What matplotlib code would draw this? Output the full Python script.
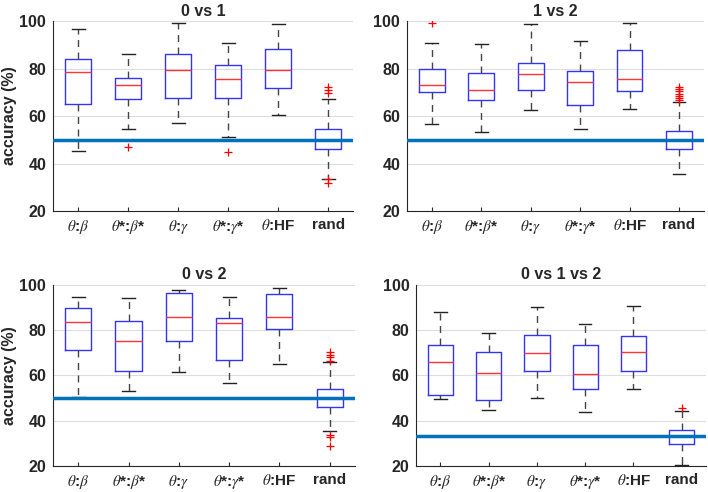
import numpy as np
import matplotlib.pyplot as plt

plt.rcParams['font.family'] = ['Liberation Sans', 'DejaVu Sans']
plt.rcParams['mathtext.fontset'] = 'stix'

labels = [r'$\theta$:$\beta$', r'$\theta$*:$\beta$*', r'$\theta$:$\gamma$',
          r'$\theta$*:$\gamma$*', r'$\theta$:HF', 'rand']

titles = ['0 vs 1', '1 vs 2', '0 vs 2', '0 vs 1 vs 2']
chance = [50, 50, 50, 33.3]

# per panel: lower whisker, q1, median, q3, upper whisker, outliers
lo_01 = [45.3, 54.5, 57.3, 51.3, 60.4, 33.6]
q1_01 = [64.9, 67.4, 67.8, 67.8, 71.9, 46.0]
med_01 = [78.6, 73.1, 79.6, 75.7, 79.6, 50.0]
q3_01 = [84.2, 76.2, 86.2, 81.7, 88.1, 54.5]
hi_01 = [96.8, 86.3, 99.2, 90.8, 98.6, 67.2]
out_01 = [[], [47.0], [], [44.8], [], [72.3, 70.9, 69.6, 33.4, 32.0]]

lo_12 = [56.5, 53.3, 62.5, 54.4, 63.1, 35.5]
q1_12 = [70.1, 66.9, 70.8, 64.8, 70.6, 46.0]
med_12 = [73.1, 71.2, 77.8, 74.4, 75.7, 50.0]
q3_12 = [79.9, 78.3, 82.4, 79.2, 87.8, 53.8]
hi_12 = [90.8, 90.2, 98.6, 91.5, 99.4, 65.8]
out_12 = [[99.4], [], [], [], [], [72.4, 71.5, 70.5, 69.5, 68.5, 67.6, 66.7]]

lo_02 = [50.5, 53.3, 61.7, 56.7, 65.2, 35.6]
q1_02 = [71.1, 62.0, 75.4, 66.7, 80.4, 45.9]
med_02 = [83.7, 75.1, 85.7, 83.1, 85.7, 49.9]
q3_02 = [90.0, 83.9, 96.6, 85.4, 95.9, 53.9]
hi_02 = [94.7, 94.2, 97.6, 94.7, 98.4, 65.7]
out_02 = [[], [], [], [], [], [70.2, 69.2, 68.2, 66.3, 33.7, 33.0, 28.8]]

lo_012 = [49.5, 44.8, 50.1, 43.9, 53.9, 20.4]
q1_012 = [51.4, 49.3, 62.0, 53.9, 62.1, 29.9]
med_012 = [65.8, 61.1, 69.8, 60.4, 70.2, 33.1]
q3_012 = [73.5, 70.4, 77.9, 73.3, 77.2, 35.9]
hi_012 = [87.9, 78.9, 90.1, 82.5, 90.6, 44.3]
out_012 = [[], [], [], [], [], [45.5]]

panels = [
    (lo_01, q1_01, med_01, q3_01, hi_01, out_01),
    (lo_12, q1_12, med_12, q3_12, hi_12, out_12),
    (lo_02, q1_02, med_02, q3_02, hi_02, out_02),
    (lo_012, q1_012, med_012, q3_012, hi_012, out_012),
]

# axes rectangles in figure fractions
rects = [
    [0.075, 0.571, 0.424, 0.386],
    [0.575, 0.571, 0.419, 0.386],
    [0.075, 0.053, 0.426, 0.368],
    [0.588, 0.053, 0.409, 0.368],
]

dark = '#262626'
fig = plt.figure(figsize=(7.08, 4.92), dpi=100)

for k in range(4):
    ax = fig.add_axes(rects[k])
    lo, q1, med, q3, hi, out = panels[k]
    stats = []
    for i in range(6):
        stats.append({'whislo': lo[i], 'q1': q1[i], 'med': med[i], 'q3': q3[i],
                      'whishi': hi[i], 'fliers': out[i], 'label': labels[i]})
    ax.bxp(stats, positions=range(1, 7), widths=0.52, showfliers=True,
           boxprops=dict(color='#3333ff', linewidth=1.0),
           medianprops=dict(color='#ff3333', linewidth=1.0),
           whiskerprops=dict(color='#444444', linestyle=(0, (5, 4)), linewidth=1.0),
           capprops=dict(color='#222222', linewidth=1.0),
           capwidths=0.26,
           flierprops=dict(marker='+', markeredgecolor='red', markersize=6,
                           linestyle='none', markeredgewidth=0.9))
    ax.axhline(chance[k], color='#0072BD', linewidth=2.5, zorder=5)

    ax.set_xlim(0.5, 6.5)
    ax.set_ylim(20, 100)
    ax.set_yticks([20, 40, 60, 80, 100])
    ax.yaxis.grid(True, color='#dddddd', linewidth=0.8)
    ax.set_axisbelow(True)
    ax.spines['top'].set_visible(False)
    ax.spines['right'].set_visible(False)
    ax.spines['left'].set_color(dark)
    ax.spines['bottom'].set_color(dark)
    ax.tick_params(axis='x', direction='in', length=3, color=dark, labelsize=11,
                   labelcolor=dark, pad=5)
    ax.tick_params(axis='y', direction='in', length=0, labelsize=11.5,
                   labelcolor=dark, pad=5)
    for t in ax.get_xticklabels() + ax.get_yticklabels():
        t.set_fontweight('bold')
    ax.set_title(titles[k], fontsize=11.5, fontweight='bold', color=dark, pad=4)
    if k % 2 == 0:
        ax.set_ylabel('accuracy (%)', fontsize=11.5, fontweight='bold', color=dark,
                      labelpad=2)

fig.savefig('out.png', dpi=100)
